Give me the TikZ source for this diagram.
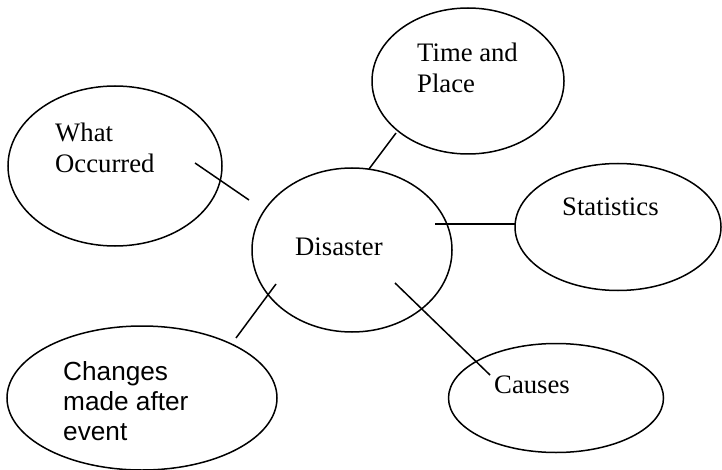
\documentclass[tikz,border=0pt]{standalone}
\usepackage{fontspec}
\setmainfont{Liberation Serif}
\newfontfamily\arialfont{Liberation Sans}
\usetikzlibrary{shapes.geometric}
\begin{document}
\begin{tikzpicture}[x=1pt,y=-1pt,
  bubble/.style={draw,ellipse,line width=1.5pt,inner sep=0pt},
  lbl/.style={inner sep=0pt,anchor=base west,align=left,font=\fontsize{26.7}{31}\selectfont},
  slbl/.style={inner sep=0pt,anchor=base west,align=left,font=\arialfont\fontsize{26.2}{30}\selectfont},
  link/.style={line width=1.5pt}]
\useasboundingbox (0,0) rectangle (722,470);
% ellipses
\node[bubble,minimum width=214pt,minimum height=160pt] (what) at (115,166) {};
\node[bubble,minimum width=192pt,minimum height=146pt] (time) at (468,81) {};
\node[bubble,minimum width=200pt,minimum height=164pt] (dis) at (352,250) {};
\node[bubble,minimum width=206pt,minimum height=127pt] (stat) at (618,227) {};
\node[bubble,minimum width=215pt,minimum height=109pt] (cause) at (556,398) {};
\node[bubble,minimum width=270pt,minimum height=144pt] (chg) at (142,398) {};
% labels (anchored at the baseline of the last line)
\node[lbl] (twhat) at (55,173) {What\\Occurred};
\node[lbl] (ttime) at (417,93) {Time and\\Place};
\node[lbl] (tdis) at (295,255) {Disaster};
\node[lbl] (tstat) at (562,215) {Statistics};
\node[lbl] (tcause) at (494,393) {Causes};
\node[slbl] (tchg) at (63,440) {Changes\\made after\\event};
% connector end points
\coordinate (w1) at (195,163); \coordinate (w2) at (249,200);
\coordinate (t1) at (369,169); \coordinate (t2) at (396,133);
\coordinate (s1) at (435,224); \coordinate (s2) at (515,224);
\coordinate (c1) at (395,283); \coordinate (c2) at (490,375);
\coordinate (g1) at (276,284); \coordinate (g2) at (236,338);
\draw[link] (w1) -- (w2);
\draw[link] (t1) -- (t2);
\draw[link] (s1) -- (s2);
\draw[link] (c1) -- (c2);
\draw[link] (g1) -- (g2);
\end{tikzpicture}
\end{document}
